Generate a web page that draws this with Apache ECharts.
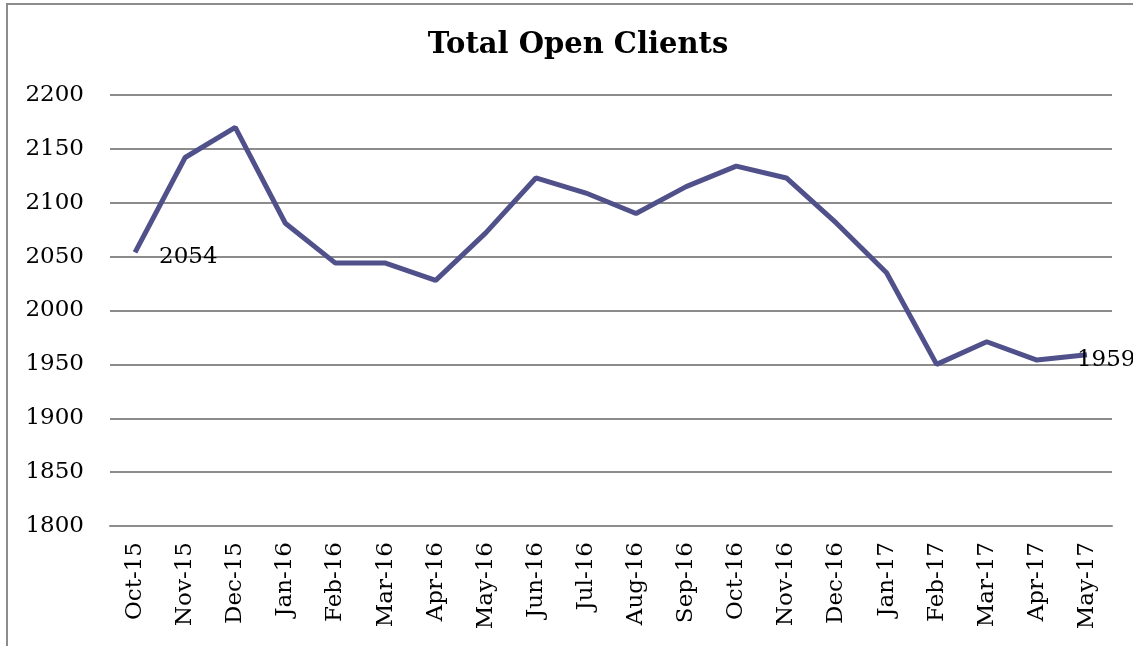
<!DOCTYPE html>
<html>
<head>
<meta charset="utf-8">
<title>Total Open Clients</title>
<script src="https://cdn.jsdelivr.net/npm/echarts@6/dist/echarts.min.js"></script>
<style>
	html, body { margin: 0; padding: 0; background: #fff; }
	#main { width: 1133px; height: 646px; }
</style>
</head>
<body>
<div id="main"></div>
<script>
const months = [
	"Oct-15", "Nov-15", "Dec-15", "Jan-16", "Feb-16", "Mar-16", "Apr-16",
	"May-16", "Jun-16", "Jul-16", "Aug-16", "Sep-16", "Oct-16", "Nov-16",
	"Dec-16", "Jan-17", "Feb-17", "Mar-17", "Apr-17", "May-17"
];
const openClients = [
	2054, 2142, 2170, 2081, 2044, 2044, 2028, 2072, 2123, 2109,
	2090, 2115, 2134, 2123, 2081, 2035, 1950, 1971, 1954, 1959
];

const serif = "'DejaVu Serif', Georgia, serif";
const gridGray = "#8c8c8c";

const chart = echarts.init(document.getElementById("main"), null, { renderer: "canvas" });

// only the first and last points carry a value label
const seriesData = openClients.map((v, i) => {
	if (i === 0) {
		return { value: v, label: { show: true, position: "right", distance: 24, offset: [0, 5] } };
	}
	if (i === openClients.length - 1) {
		return { value: v, label: { show: true, position: "right", distance: -10, offset: [0, 5] } };
	}
	return v;
});

const option = {
	backgroundColor: "#fff",
	animation: false,
	title: {
		text: "Total Open Clients",
		left: 573,
		textAlign: "center",
		top: 26,
		textStyle: {
			fontFamily: serif,
			fontWeight: "bold",
			fontSize: 29,
			color: "#000",
		},
	},
	graphic: [
		{
			type: "polyline",
			shape: { points: [[7, 700], [7, 4], [1140, 4]] },
			style: { fill: "none", stroke: "#8c8c8c", lineWidth: 2 },
			silent: true,
		},
	],
	grid: {
		left: 110,
		right: 21,
		top: 95,
		bottom: 120,
	},
	xAxis: {
		type: "category",
		data: months,
		boundaryGap: true,
		axisLine: { show: true, lineStyle: { color: gridGray, width: 2 } },
		axisTick: { show: false },
		axisLabel: {
			rotate: 90,
			margin: 16,
			interval: 0,
			fontFamily: serif,
			fontSize: 23,
			color: "#000",
		},
	},
	yAxis: {
		type: "value",
		min: 1800,
		max: 2200,
		interval: 50,
		axisLine: { show: false },
		axisTick: { show: false },
		splitLine: { lineStyle: { color: gridGray, width: 2 } },
		axisLabel: {
			margin: 26,
			fontFamily: serif,
			fontSize: 23,
			color: "#000",
			formatter: (v) => String(v),
		},
	},
	series: [
		{
			name: "Total Open Clients",
			type: "line",
			data: seriesData,
			symbol: "circle",
			symbolSize: 0,
			showSymbol: true,
			lineStyle: { color: "#50518b", width: 5 },
			itemStyle: { color: "#50518b" },
			label: {
				show: false,
				fontFamily: serif,
				fontSize: 23,
				color: "#000",
			},
		},
	],
};

chart.setOption(option, true);
</script>
</body>
</html>
